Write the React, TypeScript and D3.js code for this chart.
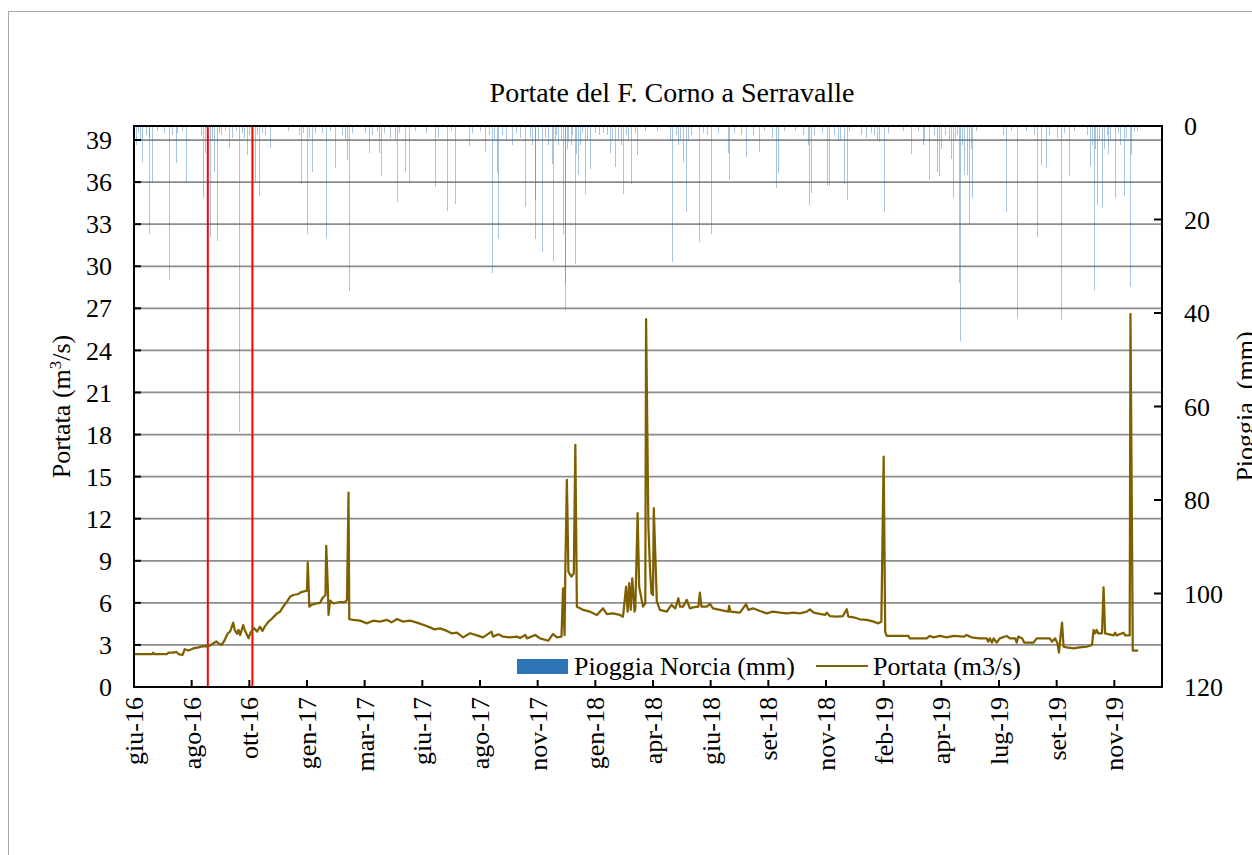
import React from "react";
import * as d3 from "d3";

// ---------- DATA ----------
// day index = days since 1 June 2016
const axisEndDay = 1337;
const xTickStepDays = 75;
const xTickLabels = [
  "giu-16", "ago-16", "ott-16", "gen-17", "mar-17", "giu-17", "ago-17", "nov-17", "gen-18",
  "apr-18", "giu-18", "set-18", "nov-18", "feb-19", "apr-19", "lug-19", "set-19", "nov-19",
];
const flowTicks = [0, 3, 6, 9, 12, 15, 18, 21, 24, 27, 30, 33, 36, 39];
const rainTicks = [0, 20, 40, 60, 80, 100, 120];
const eventDays = [96, 154];

const title = "Portate del F. Corno a Serravalle";
const rainLabel = "Pioggia Norcia (mm)";
const flowLabel = "Portata (m3/s)";

// daily rain (day, mm)
const rain: [number, number][] = [
  [3, 4], [5, 1.5], [8, 3], [11, 7.8], [15, 2], [19, 23], [20, 2.5], [24, 12], [30, 1], [39, 1.5],
  [45, 33], [49, 2], [54, 8], [56, 1.5], [62, 1], [67, 12], [87, 2], [90, 15.3], [92, 5.7], [95, 2], [99, 23.7],
  [101, 3], [104, 9.8], [108, 24.7], [111, 1.5], [113, 2], [118, 1], [123, 4.8], [128, 2.5], [133, 1],
  [137, 65.4], [140, 1.5], [143, 2.5], [147, 6.2], [150, 2], [153, 1.5], [158, 12], [160, 2], [163, 15], [166, 1.5],
  [170, 2], [177, 4.6], [200, 1], [215, 2], [217, 12.3], [220, 1.5], [225, 23], [228, 2.5], [231, 9.8], [236, 1.5],
  [245, 1.5], [250, 24], [255, 1], [262, 9], [270, 2], [274, 3], [277, 7.3], [279, 35.4], [284, 1.5], [300, 1.5],
  [305, 5.7], [310, 2], [316, 1], [319, 5.8], [321, 10.8], [325, 1.5], [333, 2.5], [340, 3], [342, 16.2], [345, 1.5],
  [352, 9.8], [358, 12.1], [365, 1], [380, 1.5], [392, 13], [395, 2.5], [407, 18.2], [412, 1], [418, 16.7],
  [436, 4.2], [440, 1.5], [450, 1], [457, 5.5], [462, 2], [466, 31.5], [468, 3], [472, 10], [474, 24.2], [478, 2],
  [484, 3], [491, 4], [497, 1.5], [502, 2.5], [508, 17.4], [515, 2.5], [518, 4], [521, 15.8], [522, 24.2], [526, 3],
  [531, 27], [535, 2.5], [539, 4], [543, 8.2], [545, 28.9], [547, 3], [549, 2], [552, 4], [555, 3], [558, 23], [560, 33.9], [561, 39.4],
  [563, 5], [565, 3.5], [568, 4], [570, 2], [573, 29.5], [575, 6], [578, 10.5], [580, 4], [583, 1.5], [586, 14.5], [589, 3], [593, 9.3], [600, 1.5],
  [605, 2], [610, 1.5], [615, 2], [619, 5.8], [622, 3], [626, 8.7], [630, 3], [633, 4], [636, 14.5], [640, 2], [643, 3], [647, 12.3], [651, 1.5],
  [654, 6.2], [665, 1], [680, 1], [697, 3], [700, 29], [705, 2], [708, 4], [710, 3], [714, 7.8], [718, 18.5], [721, 3], [725, 2],
  [735, 24.9], [740, 1.5], [745, 2], [750, 23], [760, 1.5], [773, 5.7], [774, 11.5], [780, 1.5], [790, 2],
  [796, 6.6], [805, 2], [813, 5.5], [820, 1], [830, 2.5], [835, 13.3], [838, 10], [845, 1], [860, 1],
  [870, 2], [876, 4], [878, 16.8], [880, 14.4], [885, 2], [895, 1.5], [901, 12.6], [904, 12.8], [910, 2], [915, 3],
  [918, 3], [923, 12.3], [927, 15.8], [930, 1], [945, 2], [952, 2.5], [958, 1.5], [962, 2], [966, 3], [969, 3.5], [975, 18.3],
  [980, 1.5], [1000, 1], [1011, 6], [1020, 1], [1026, 4], [1028, 3], [1034, 11.5], [1040, 2], [1045, 9.8],
  [1047, 10.8], [1050, 5], [1055, 2], [1060, 3], [1062, 7], [1065, 15.5], [1068, 3], [1070, 2], [1073, 33.6], [1074, 45.9], [1077, 4],
  [1080, 10.4], [1084, 10.5], [1086, 21], [1088, 5], [1090, 15.5], [1095, 1], [1130, 2], [1134, 18.5], [1140, 1],
  [1149, 41.1], [1160, 1], [1170, 2], [1175, 23.8], [1180, 8.4], [1186, 9], [1190, 2], [1200, 2.5],
  [1206, 41.5], [1210, 1.5], [1216, 10.7], [1222, 1], [1240, 2], [1244, 8.6], [1246, 4], [1248, 35], [1250, 5], [1252, 16.9],
  [1255, 3], [1259, 17.6], [1262, 5], [1265, 2], [1267, 6], [1270, 3], [1276, 15.3], [1280, 1.5], [1283, 4], [1287, 15], [1290, 2.5],
  [1295, 34.4], [1297, 6], [1300, 1], [1305, 1],
];

// discharge (day, m3/s)
const flow: [number, number][] = [
  [0, 2.35], [24, 2.35], [25, 2.45], [26, 2.35], [43, 2.35], [45, 2.45], [51, 2.45], [55, 2.5], [58, 2.35],
  [63, 2.28], [66, 2.69], [71, 2.6], [77, 2.75], [84, 2.83], [90, 2.92], [97, 2.9], [103, 3.1], [107, 3.25],
  [110, 3.1], [114, 3.0], [117, 3.25], [122, 3.83], [125, 3.95], [129, 4.59], [131, 4.07], [134, 3.8],
  [136, 4.07], [138, 3.7], [142, 4.42], [144, 4.07], [149, 3.47], [151, 3.8], [154, 4.07], [156, 4.2],
  [160, 3.95], [164, 4.3], [167, 4.0], [170, 4.3], [175, 4.66], [179, 4.85], [186, 5.25], [190, 5.37],
  [194, 5.73], [199, 6.09], [203, 6.44], [207, 6.56], [214, 6.63], [216, 6.73], [220, 6.8], [225, 6.87],
  [226, 8.89], [228, 5.73], [231, 5.85], [238, 5.97], [242, 6.0], [245, 6.32], [249, 6.56], [250, 10.06],
  [252, 7.2], [253, 5.14], [255, 6.16], [259, 5.97], [268, 6.06], [274, 6.06], [277, 6.2], [279, 13.86],
  [280, 4.83], [285, 4.78], [294, 4.73], [303, 4.54], [311, 4.73], [320, 4.66], [329, 4.78], [335, 4.61],
  [342, 4.85], [350, 4.66], [359, 4.73], [368, 4.59], [376, 4.44], [385, 4.25], [391, 4.11], [398, 4.18],
  [407, 4.0], [413, 3.83], [420, 3.87], [428, 3.54], [437, 3.83], [446, 3.68], [454, 3.54], [465, 3.95],
  [467, 3.59], [474, 3.76], [480, 3.59], [489, 3.54], [498, 3.59], [502, 3.5], [509, 3.71], [511, 3.47],
  [522, 3.71], [528, 3.47], [539, 3.3], [545, 3.78], [550, 3.54], [556, 3.59], [558, 7.04], [560, 3.7],
  [561, 8.47], [563, 14.76], [565, 8.2], [569, 7.87], [572, 8.1], [574, 17.26], [576, 5.73], [584, 5.5],
  [593, 5.37], [602, 5.14], [610, 5.61], [615, 5.2], [623, 5.25], [632, 5.14], [636, 5.01], [640, 7.15],
  [642, 5.37], [644, 7.4], [646, 5.5], [648, 7.75], [651, 5.37], [652, 5.6], [655, 12.39], [657, 7.15],
  [662, 5.73], [665, 5.97], [666, 26.23], [669, 11.5], [671, 8.58], [673, 6.68], [675, 6.56], [676, 12.75],
  [680, 6.09], [684, 5.5], [693, 5.37], [699, 5.85], [704, 5.6], [708, 6.33], [710, 5.73], [714, 5.73],
  [719, 6.21], [723, 5.6], [727, 5.68], [734, 5.73], [736, 6.73], [738, 5.73], [745, 5.73], [749, 5.92],
  [753, 5.61], [762, 5.5], [773, 5.37], [774, 5.78], [776, 5.37], [788, 5.3], [796, 5.9], [799, 5.5],
  [805, 5.61], [814, 5.42], [823, 5.25], [831, 5.37], [840, 5.3], [849, 5.25], [858, 5.3], [866, 5.25],
  [875, 5.37], [879, 5.54], [884, 5.3], [892, 5.21], [899, 5.14], [901, 5.3], [905, 5.06], [914, 5.02],
  [922, 5.06], [927, 5.54], [929, 5.02], [936, 4.97], [944, 4.83], [953, 4.78], [962, 4.66], [968, 4.54],
  [972, 4.66], [975, 16.43], [977, 3.95], [979, 3.64], [996, 3.64], [1007, 3.64], [1009, 3.47],
  [1016, 3.47], [1031, 3.47], [1035, 3.64], [1040, 3.54], [1048, 3.64], [1057, 3.54], [1066, 3.64],
  [1079, 3.59], [1083, 3.71], [1089, 3.54], [1100, 3.47], [1109, 3.47], [1111, 3.23], [1113, 3.47],
  [1116, 3.16], [1118, 3.47], [1122, 3.16], [1126, 3.47], [1135, 3.64], [1139, 3.47], [1146, 3.47],
  [1148, 3.16], [1150, 3.59], [1155, 3.47], [1158, 3.16], [1170, 3.16], [1174, 3.47], [1191, 3.47],
  [1194, 3.23], [1198, 3.47], [1201, 3.11], [1203, 2.45], [1205, 3.59], [1207, 4.59], [1209, 2.87],
  [1213, 2.83], [1222, 2.76], [1230, 2.83], [1239, 2.87], [1246, 3.0], [1248, 4.07], [1250, 3.83],
  [1252, 4.07], [1254, 3.83], [1259, 3.83], [1261, 7.11], [1263, 3.83], [1274, 3.68], [1276, 3.87],
  [1278, 3.68], [1287, 3.87], [1289, 3.68], [1295, 3.68], [1296, 26.6], [1299, 2.6], [1306, 2.6],
];

// ---------- LAYOUT ----------
const W = 1252;
const H = 855;
const L = 134;
const R = 1162;
const T = 126;
const B = 687;
const FONT = "'Liberation Serif', 'Times New Roman', serif";
const FLOW_COLOR = "#7f6000";
const RAIN_COLOR = "#2e75b6";

export default function App() {
  const x = d3.scaleLinear().domain([0, axisEndDay]).range([L, R]);
  const yL = d3.scaleLinear().domain([0, 40]).range([B, T]);
  const yR = d3.scaleLinear().domain([0, 120]).range([T, B]);

  const line = d3
    .line<[number, number]>()
    .x((d) => x(d[0]))
    .y((d) => yL(d[1]));

  const xTicks = xTickLabels.map((lab, i) => ({ lab, day: i * xTickStepDays }));

  return (
    <svg
      width={W}
      height={H}
      style={{ position: "absolute", left: 0, top: 0, background: "#fff" }}
      fontFamily={FONT}
    >
      <rect x={0} y={0} width={W} height={H} fill="#fff" />
      {/* outer chart border */}
      <rect x={8.5} y={11.5} width={1400} height={1000} fill="none" stroke="#a6a6a6" strokeWidth={1} />

      {/* title */}
      <text x={672} y={102} textAnchor="middle" fontSize={28} fill="#000">
        {title}
      </text>

      {/* gridlines */}
      {flowTicks.map((t) => (
        <line key={"g" + t} x1={L} x2={R} y1={yL(t)} y2={yL(t)} stroke="#8c8c8c" strokeWidth={1.75} />
      ))}

      {/* rain bars */}
      <g shapeRendering="crispEdges">
        {rain.map(([d, mm], i) => (
          <rect
            key={"r" + i}
            x={Math.round(x(d)) - 0.5}
            y={T}
            width={1}
            height={yR(mm) - T}
            fill={RAIN_COLOR}
            fillOpacity={0.42}
          />
        ))}
      </g>

      {/* event lines */}
      {eventDays.map((d) => (
        <line key={"e" + d} x1={x(d)} x2={x(d)} y1={T} y2={B} stroke="#ff0000" strokeWidth={2} />
      ))}

      {/* flow line */}
      <path d={line(flow) || ""} fill="none" stroke={FLOW_COLOR} strokeWidth={2.25} strokeLinejoin="round" />

      {/* plot frame */}
      <rect x={L} y={T} width={R - L} height={B - T} fill="none" stroke="#000" strokeWidth={2} />

      {/* left axis ticks + labels */}
      {flowTicks.map((t) => (
        <g key={"lt" + t}>
          <line x1={L} x2={L + 7} y1={yL(t)} y2={yL(t)} stroke="#000" strokeWidth={2} />
          <text x={112} y={yL(t)} dy="0.35em" textAnchor="end" fontSize={26}>
            {t}
          </text>
        </g>
      ))}

      {/* right axis ticks + labels */}
      {rainTicks.map((t) => (
        <g key={"rt" + t}>
          <line x1={R - 8} x2={R} y1={yR(t)} y2={yR(t)} stroke="#000" strokeWidth={2} />
          <text x={1184} y={yR(t)} dy="0.35em" textAnchor="start" fontSize={26}>
            {t}
          </text>
        </g>
      ))}

      {/* bottom axis ticks + labels */}
      {xTicks.map((t) => (
        <g key={"xt" + t.day}>
          <line x1={x(t.day)} x2={x(t.day)} y1={B - 7} y2={B} stroke="#000" strokeWidth={2} />
          <text
            transform={`translate(${x(t.day)},${B + 10}) rotate(-90)`}
            dy="0.35em"
            textAnchor="end"
            fontSize={26}
          >
            {t.lab}
          </text>
        </g>
      ))}

      {/* axis titles */}
      <text transform={`translate(70,${(T + B) / 2}) rotate(-90)`} textAnchor="middle" fontSize={26}>
        Portata (m<tspan baselineShift="super" fontSize={17}>3</tspan>/s)
      </text>
      <text
        transform={`translate(1254,${(T + B) / 2}) rotate(-90)`}
        textAnchor="middle"
        fontSize={26}
        style={{ whiteSpace: "pre" }}
      >
        {"Pioggia  (mm)"}
      </text>

      {/* legend */}
      <rect x={517} y={659} width={51} height={15} fill={RAIN_COLOR} />
      <text x={574} y={675} fontSize={26}>
        {rainLabel}
      </text>
      <line x1={816} x2={868} y1={666} y2={666} stroke={FLOW_COLOR} strokeWidth={2} />
      <text x={873} y={675} fontSize={26}>
        {flowLabel}
      </text>
    </svg>
  );
}
